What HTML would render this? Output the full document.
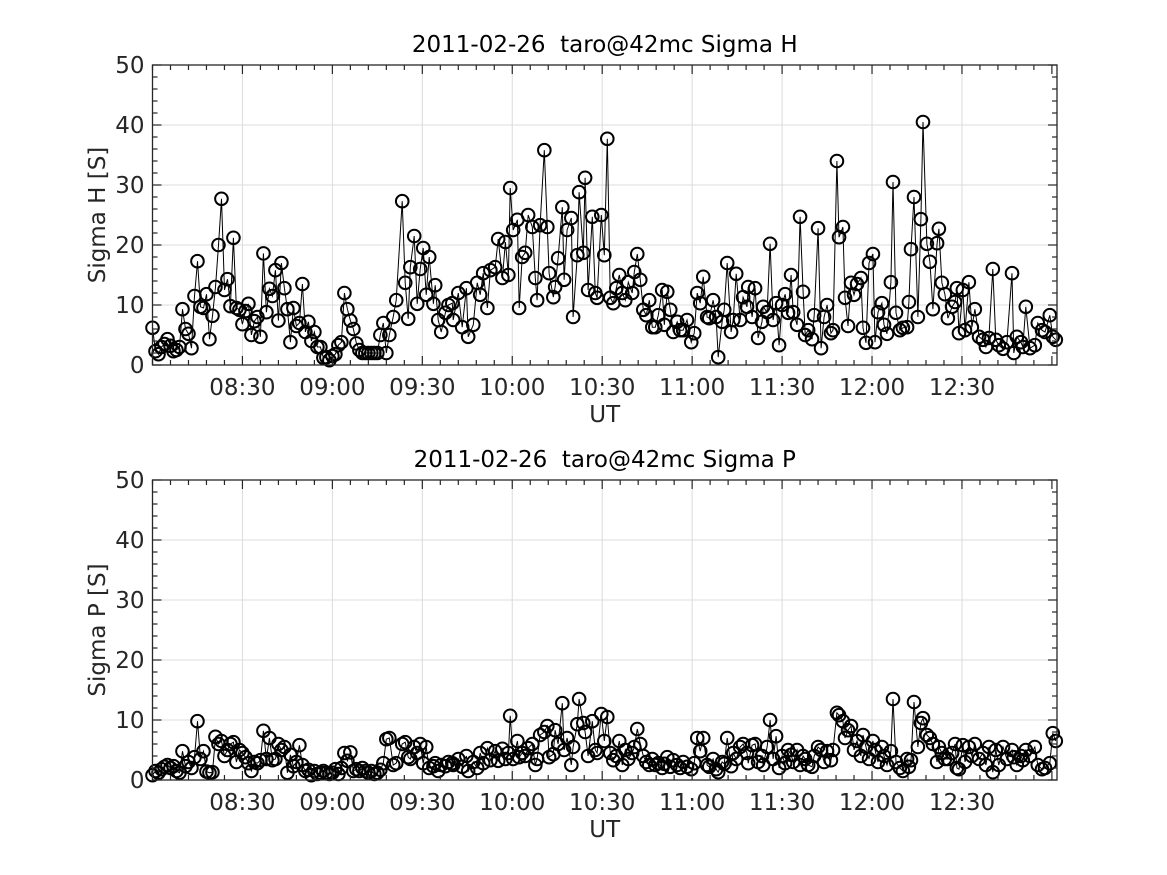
<!DOCTYPE html>
<html><head><meta charset="utf-8"><style>
body{margin:0;background:#fff;}
svg{display:block;font-family:"DejaVu Sans","Liberation Sans",sans-serif;}
text{white-space:pre;}
</style></head><body>
<svg id="fig" width="1167" height="875" viewBox="0 0 1167 875" xmlns="http://www.w3.org/2000/svg"></svg>
<script>
// time in minutes since 08:00 UT
const tMin=[0,1,2,3,4,5,6,7,8,9,10,11,12,13,14,15,16,17,18,19,20,21,22,23,24,25,26,27,28,29,30,31,32,33,34,35,36,37,38,39,40,41,42,43,44,45,46,47,48,49,50,51,52,53,54,55,56,57,58,59,60,61,62,63,64,65,66,67,68,69,70,71,72,73,74,75,76,77,78,79,
80.3,81.3,83.3,84.3,85.3,86,87.3,88.3,89.3,90.3,91.3,92.3,93.7,94.3,95.3,96.3,97.7,98.7,100,
100.3,102,103.3,104.7,105.3,107,108.3,109.3,110.3,111.7,112.7,114.3,115.3,116.7,117.7,118.7,119.3,120.3,121.7,122.3,123.3,124.3,125.3,126.7,127.7,128.3,129.3,130.7,131.7,132.3,133.7,134.3,135.3,136.7,137.3,138.3,139.7,140.3,141.7,142.3,143.7,144.3,145.3,146.7,147.7,148.3,149.7,150.7,151.7,152.7,153.7,154.7,155.7,156.7,157.7,158.7,160,160.7,161.7,162.7,163.7,164.7,165.7,166.7,167.7,168.7,170,170.7,171.7,172.7,173.7,175,176,177,178.3,179.7,180.7,181.7,182.7,183.7,185,185.7,187,188,188.7,190,190.7,191.7,193,193.7,194.7,196,197,198.3,198.7,200,201,202,203.3,203.7,205,206,207,208,209,210,211,212,213,213.7,215,216,217,217.7,218.7,220,220.7,222,223,224,225,226.3,227,228.3,229,230.3,231,232,233,234,235,236.3,237,238,239,240.3,241,242,243.3,244,245,246.3,247,248,249.3,250.3,251.7,252.3,253,254,255.3,256.3,257,258.3,259.3,260.3,261.7,262.3,263.3,264.3,265.3,266.7,267.7,268.3,269,270.3,271,272.3,273.3,274.3,275.7,277,278,279,280.3,281.3,282.3,283.7,285,286.7,287.3,288.3,289.7,290.3,291.3,292.7,294.3,295.3,296.7,297.7,299.3,300.3,301.3];
const sigmaH=[6.2,2.3,1.8,3,3.5,4.3,3.2,2.3,2.5,3,9.3,6,5.2,2.8,11.5,17.3,9.7,9.5,11.8,4.3,8.2,13,20,27.7,12.5,14.3,9.8,21.2,9.5,9.2,6.8,9,10.2,5,7.3,8,4.7,18.6,8.8,12.7,11.5,15.8,7.4,17,12.8,9.3,3.8,9.5,6.5,7,13.5,5.5,7.2,4,5.5,3,3,1.2,1.3,0.8,1.5,1.8,3.3,3.8,12,9.3,7.4,6,3.6,2.5,2,2,2,2,2,2,5,7,2,5,
8,10.8,27.3,13.7,7.7,16.3,21.5,10.2,16,19.5,11.7,18,10.2,13.3,7.5,5.5,8.7,10,10.3,
7.5,12,6.3,12.8,4.7,6.7,13.7,11.7,15.3,9.5,15.8,16.3,21,14.5,20.5,15,29.5,22.5,24.2,9.5,18,18.7,25,23,14.5,10.8,23.3,35.8,23,15.3,11.3,13,17.8,26.3,14.2,22.5,24.5,8,18.3,28.8,18.7,31.2,12.5,24.7,12,11.2,25,18.3,37.7,11.2,10.3,12.8,15,12,10.8,13.8,12,15.5,18.5,14.2,9.2,8.3,10.8,6.3,6.3,8.3,12.5,6.7,12.2,9.2,5.5,7.2,5.8,5.8,7.5,3.8,5.3,12,10.3,14.7,8,7.8,10.8,8,1.3,7.2,9.2,17,5.5,7.5,15.2,7.5,11.3,9.7,13,8,12.8,4.5,7.2,9.7,8.8,20.2,7.5,10.3,3.3,10,11.8,8.7,15,8.8,6.7,24.7,12.2,5,5.8,4.3,8.3,22.8,2.8,8,10,5.3,5.8,34,21.3,23,11.2,6.5,13.7,11.7,13.5,14.5,6.2,3.7,17,18.5,3.8,8.8,10.3,6.7,5.2,13.8,30.5,8.7,5.8,6.2,6.3,10.5,19.3,28,8,24.3,40.5,20.2,17.2,9.3,20.3,22.7,13.7,11.8,7.8,9.7,10.5,12.8,5.3,12.5,5.8,13.8,6.3,9.3,4.7,4.2,3,4.5,16,4.2,3.3,2.7,3.8,15.3,2,4.7,3.8,3,9.7,2.8,3.3,7,5.8,5.5,8.3,4.7,4.2];
const sigmaP=[0.8,1.5,1.2,1.8,2.2,2.5,2,2.3,1.5,1.2,4.8,2.3,3,2,3.8,9.8,3.5,4.8,1.4,1.2,1.3,7.2,6,6.5,4,5,6,6.3,3,5,4.5,3.8,2.8,1.5,3,2.8,3.3,8.2,3.5,7,3.3,3.5,6,5,5.5,1.2,4.2,2.3,3,5.8,2.5,1.5,1.7,0.8,1.5,1,1.2,1.5,1.2,1,1.2,1.8,1,2,4.5,3.2,4.6,1.5,1.8,1.5,2,1.5,1.2,1.5,1,1.2,1.7,2.8,6.8,7,
2.5,2.8,6,6.3,3.8,3.5,5.5,4.5,6,2.8,5.5,2,2.3,2.8,1.5,2.5,2.3,3,2.8,
2.5,3.5,2.2,4,1.5,3,2,4.5,2.8,5.3,3.3,4.8,3.2,5.2,3.5,4.5,10.7,3.5,6.5,3.8,4.5,4,5.3,6,2.5,3.5,7.5,8,9,3.8,4.3,8.3,6,12.8,5,7,2.5,5.5,9.3,13.5,9.5,8,4,9.8,5,4.5,11,6.5,10.5,4.5,3.3,4,6.5,2.5,5,3.5,4.5,5.5,8.5,6,4,3,2.5,3.5,2.5,2.8,2,2.7,3.8,2.2,3.3,2.5,2,3,2.2,1.8,2.8,7,4.8,7,2.5,2.2,3.5,1.8,1.3,3,2.7,7,2.3,4.5,3.5,5.5,6,4.5,2.8,5.8,6,3,4,2.5,5.5,10,3.5,7.3,2,4,2.8,5,4.2,3,5,2.5,4,3.5,2.5,2.2,4,5.5,5,3,4.8,3.3,5,11.2,10.8,9.8,7,8.3,9,5,6.5,4,7.5,5.5,3.5,6.5,5,3,5.5,4,2.5,4.8,13.5,3,2,1.5,3.5,2.2,3.3,13,5.5,9.5,10.3,7.5,7,6,3,5.5,4.5,3.5,3.5,4.5,6,2,1.8,5.8,3,5.5,4,6,3.5,4.5,2.5,5.5,1.3,5,2.5,5.5,3.5,5,3.8,2.5,4,3.3,5,4,5.5,2.5,1.8,2,2.8,7.8,6.5];
const yTicks=[0,10,20,30,40,50];
const xTickMin=[30,60,90,120,150,180,210,240,270];
const xTickLabels=["08:30","09:00","09:30","10:00","10:30","11:00","11:30","12:00","12:30"];

const NS="http://www.w3.org/2000/svg";
const svg=document.getElementById('fig');
function mk(tag,attrs,parent){const e=document.createElementNS(NS,tag);for(const k in attrs)e.setAttribute(k,attrs[k]);(parent||svg).appendChild(e);return e;}
const L=152.5,R=1057,T0=0,T1=301.7;
const FS=23;
function xs(t){return L+(t-T0)/(T1-T0)*(R-L);}

function panel(top,bot,values,title,ylabel,key){
  const g=mk('g',{});
  
  
  const ys=v=>bot-(v/50)*(bot-top);
  yTicks.forEach(v=>{const l=mk('line',{x1:L,x2:R,y1:ys(v),y2:ys(v),stroke:'#dcdcdc','stroke-width':1},g);
    });
  xTickMin.forEach(t=>{const l=mk('line',{x1:xs(t),x2:xs(t),y1:top,y2:bot,stroke:'#dcdcdc','stroke-width':1},g);
    });
  const n=Math.min(tMin.length,values.length);
  let d='';
  for(let i=0;i<n;i++)d+=(i?'L':'M')+xs(tMin[i]).toFixed(1)+' '+ys(values[i]).toFixed(1);
  const p=mk('path',{d:d,fill:'none',stroke:'#000','stroke-width':1},g);
  
  for(let i=0;i<n;i++){
    const c=mk('circle',{cx:xs(tMin[i]),cy:ys(values[i]),r:6.3,fill:'none',stroke:'#000','stroke-width':2},g);
    
    
  }
  const b=mk('rect',{x:L,y:top,width:R-L,height:bot-top,fill:'none',stroke:'#262626','stroke-width':1.3},g);
  
  for(let v=0;v<=50;v+=2){
    const major=v%10===0,len=major?9:5;
    mk('line',{x1:L,x2:L+len,y1:ys(v),y2:ys(v),stroke:'#262626','stroke-width':1.2},g);
    mk('line',{x1:R,x2:R-len,y1:ys(v),y2:ys(v),stroke:'#262626','stroke-width':1.2},g);
  }
  yTicks.forEach(v=>{const tx=mk('text',{x:L-8,y:ys(v)+8,'text-anchor':'end','font-size':FS,fill:'#262626'},g);tx.textContent=v;
    });
  for(let t=0;t<=300;t+=6){
    const major=t%30===0&&t>0,len=major?9:5;
    mk('line',{x1:xs(t),x2:xs(t),y1:bot,y2:bot-len,stroke:'#262626','stroke-width':1.2},g);
    mk('line',{x1:xs(t),x2:xs(t),y1:top,y2:top+len,stroke:'#262626','stroke-width':1.2},g);
  }
  xTickMin.forEach((t,i)=>{const tx=mk('text',{x:xs(t),y:bot+30,'text-anchor':'middle','font-size':FS,fill:'#262626'},g);tx.textContent=xTickLabels[i];
    });
  const xl=mk('text',{x:(L+R)/2,y:bot+57,'text-anchor':'middle','font-size':FS,fill:'#262626'},g);xl.textContent='UT';
  
  const yl=mk('text',{x:0,y:0,'text-anchor':'middle','font-size':FS,fill:'#262626',transform:`translate(105,${(top+bot)/2}) rotate(-90)`},g);yl.textContent=ylabel;
  
  const tt=mk('text',{x:(L+R)/2,y:top-13,'text-anchor':'middle','font-size':FS,fill:'#000'},g);tt.textContent=title;
  
}
panel(65,365,sigmaH,'2011-02-26  taro@42mc Sigma H','Sigma H [S]','sigma-h');
panel(480,780,sigmaP,'2011-02-26  taro@42mc Sigma P','Sigma P [S]','sigma-p');
</script>
</body></html>
